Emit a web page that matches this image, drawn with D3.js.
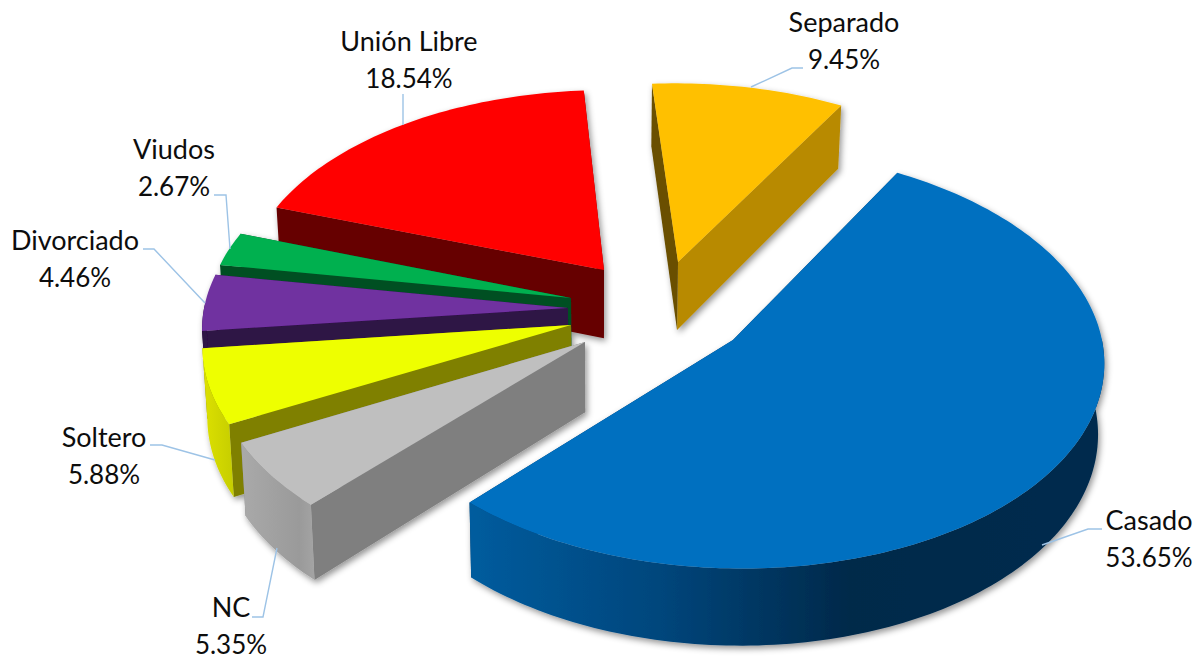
<!DOCTYPE html>
<html>
<head>
<meta charset="utf-8">
<script src="https://cdn.jsdelivr.net/npm/d3@7"></script>
<style>
html,body{margin:0;padding:0;background:#fff;}
svg{display:block;}
text{font-family:Lato,"Open Sans",sans-serif;fill:#0d0d0d;}
</style>
</head>
<body>
<svg id="chart" width="1201" height="663"></svg>
<script>
// ---- data ----
const categories = ["Casado","NC","Soltero","Divorciado","Viudos","Unión Libre","Separado"];
const percents   = [53.65, 5.35, 5.88, 4.46, 2.67, 18.54, 9.45];

// ---- styling per category ----
const topColors  = ["#0070c0","#bfbfbf","#eeff00","#7030a0","#00b050","#ff0000","#ffc000"];
const faceColors = ["#003a66","#7f7f7f","#7f8000","#2e1245","#004f24","#660000","#b88a00"];
const endFaceColors = ["#003a66","#7f7f7f","#7f8000","#2e1245","#004f24","#660000","#6b5000"];

// ---- explosion of each slice on the pie plane (pie radius ≈ 1) ----
const explodeU = [0.247,-0.146,-0.1844,-0.194,-0.1866,-0.0986,0.1045];
const explodeV = [-0.1917,-0.2012,-0.1207,-0.039,0.0098,0.1478,0.188];

// ---- label layout ----
const labelX = [1149,231,104,75,174,409,844];
const labelY = [530,617,447,250,159,51,32];
const leaders = [
  [[1042,545],[1088,529],[1102,529]],
  [[277,548],[263,617],[252,617]],
  [[215,460],[162,445],[150,445]],
  [[205,303],[154,249],[143,249]],
  [[230,249],[226,195],[214,195]],
  [[403,125],[403,94]],
  [[751,87],[792,68],[803,68]]
];

// ---- projection ----
const cx=640, cy=300, A=370, B=205, persp=0.09, R=0.98, depth=69, xVanish=600, zShrink=0.00018;
const startDeg = 30;
const project = (u,v,z=0)=>{
  const w = 1+persp*v;
  const x = cx+A*u/w;
  return [xVanish+(x-xVanish)*(1-z*zShrink), cy-B*v/w+z/w];
};

const svg = d3.select("#chart");
const defs = svg.append("defs");

const shadow = defs.append("filter").attr("id","shadow")
  .attr("x","-5%").attr("y","-5%").attr("width","110%").attr("height","115%");
shadow.append("feDropShadow").attr("dx",2).attr("dy",3)
  .attr("stdDeviation",3).attr("flood-color","#000").attr("flood-opacity",0.42);

function hGrad(id,x1,x2,stops){
  const g = defs.append("linearGradient").attr("id",id)
    .attr("gradientUnits","userSpaceOnUse").attr("x1",x1).attr("x2",x2).attr("y1",0).attr("y2",0);
  stops.forEach(s=>g.append("stop").attr("offset",s[0]).attr("stop-color",s[1]));
}
hGrad("wall0",470,1102,[[0,"#005c9e"],[0.3,"#00467c"],[0.6,"#00294a"],[1,"#002c4e"]]);
hGrad("wall1",243,318,[[0,"#a9a9a9"],[0.75,"#9a9a9a"],[1,"#a6a6a6"]]);
hGrad("wall2",204,236,[[0,"#dce000"],[1,"#c4cc00"]]);
const outerFill = ["url(#wall0)","url(#wall1)","url(#wall2)","#2e1245","#004f24","#660000","#b88a00"];

const pie = d3.pie().sort(null).value(d=>d)
  .startAngle(startDeg*Math.PI/180).endAngle(startDeg*Math.PI/180+2*Math.PI);
const arcs = pie(percents);

const slices = arcs.map((a,i)=>{
  const n = Math.max(6,Math.ceil((a.endAngle-a.startAngle)/0.02));
  const ts = d3.range(n+1).map(k=>a.startAngle+(a.endAngle-a.startAngle)*k/n);
  const at = t=>[explodeU[i]+R*Math.sin(t), explodeV[i]+R*Math.cos(t)];
  return {
    i,
    rim: ts.map(at),
    front: ts.filter(t=>Math.cos(t)<0.02).map(at),   // only the part of the rim that faces the viewer
    apex:[explodeU[i],explodeV[i]]
  };
});

const line = d3.line();
const poly = (pts,z)=>pts.map(p=>project(p[0],p[1],z));
const quad = (p,q)=>line([...poly([p,q],0),...poly([q,p],depth)])+"Z";

// painter's order: far slices first, the big front slice last
const order = [6,5,4,3,2,1,0];

const all = svg.append("g").attr("filter","url(#shadow)");
const groups = all.selectAll("g.slice").data(order.map(k=>slices[k])).join("g").attr("class","slice");

// radial side faces
groups.append("path").attr("d",d=>quad(d.apex,d.rim[d.rim.length-1]))
  .attr("fill",d=>faceColors[d.i]);
groups.append("path").attr("d",d=>quad(d.apex,d.rim[0]))
  .attr("fill",d=>endFaceColors[d.i]);
// outer wall
groups.filter(d=>d.front.length>1).append("path")
  .attr("d",d=>line([...poly(d.front,0),...poly(d.front.slice().reverse(),depth)])+"Z")
  .attr("fill",d=>outerFill[d.i]);
// top surface
groups.append("path").attr("d",d=>line(poly([d.apex,...d.rim],0))+"Z")
  .attr("fill",d=>topColors[d.i]);

// leaders
svg.append("g").selectAll("path").data(leaders).join("path")
  .attr("d",d=>line(d)).attr("fill","none")
  .attr("stroke","#9dc3e6").attr("stroke-width",1.4);

// labels
const lab = svg.append("g").selectAll("text").data(categories).join("text")
  .attr("text-anchor","middle");
lab.append("tspan").attr("x",(d,i)=>labelX[i]).attr("y",(d,i)=>labelY[i]).attr("font-size",27).text(d=>d);
lab.append("tspan").attr("x",(d,i)=>labelX[i]).attr("y",(d,i)=>labelY[i]+36.5).attr("font-size",26)
  .text((d,i)=>d3.format(".2f")(percents[i])+"%");
</script>
</body>
</html>
